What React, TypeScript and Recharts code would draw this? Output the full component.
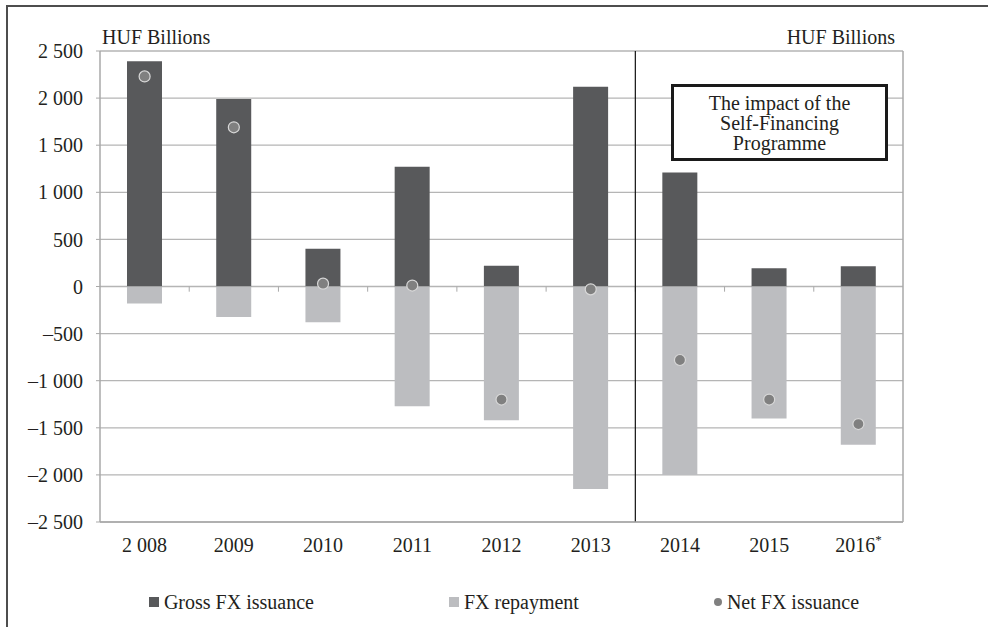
import {
  Bar,
  CartesianGrid,
  ComposedChart,
  Legend,
  Line,
  ReferenceLine,
  XAxis,
  YAxis
} from 'recharts';

const years = ['2 008', '2009', '2010', '2011', '2012', '2013', '2014', '2015', '2016*'];
const grossIssuance = [2390, 1990, 400, 1270, 220, 2120, 1210, 195, 215];
const fxRepayment = [-180, -325, -380, -1270, -1420, -2150, -2000, -1400, -1680];
const netIssuance = [2230, 1690, 30, 10, -1200, -30, -780, -1200, -1460];
const yTicks = [-2500, -2000, -1500, -1000, -500, 0, 500, 1000, 1500, 2000, 2500];

const legendItems = [
  { name: 'Gross FX issuance', color: '#58595b', shape: 'square' },
  { name: 'FX repayment', color: '#bcbdc0', shape: 'square' },
  { name: 'Net FX issuance', color: '#808080', shape: 'circle' }
];

const data = years.map((year, i) => ({
  year,
  gross: grossIssuance[i],
  repay: fxRepayment[i],
  net: netIssuance[i]
}));

const font = '"Liberation Serif", "Times New Roman", serif';
const ink = '#231f20';
const axisGrey = '#a9a9a9';

const fmt = (v: number) => {
  const s = String(Math.abs(v)).replace(/\B(?=(\d{3})+(?!\d))/g, ' ');
  return v < 0 ? '\u2013' + s : s;
};

const RightTick = (props: any) => {
  const { x, y, payload } = props;
  const v = payload.value as number;
  const digits = fmt(Math.abs(v));
  return (
    <g>
      {v < 0 && (
        <text x={x + 16} y={y} dy="0.355em" textAnchor="end" fill={ink} fontSize={20} fontFamily={font}>
          {'\u2013'}
        </text>
      )}
      <text x={x + 16} y={y} dy="0.355em" textAnchor="start" fill={ink} fontSize={20} fontFamily={font}>
        {digits}
      </text>
    </g>
  );
};

const YearTick = (props: any) => {
  const { x, y, payload } = props;
  const label = String(payload.value);
  const star = label.endsWith('*');
  return (
    <text x={x} y={y + 30} textAnchor="middle" fill={ink} fontSize={20} fontFamily={font}>
      {star ? label.slice(0, -1) : label}
      {star && (
        <tspan fontSize={13} dy={-8}>
          *
        </tspan>
      )}
    </text>
  );
};

const renderLegend = () => (
  <div
    style={{
      display: 'flex',
      justifyContent: 'center',
      gap: 135,
      paddingLeft: 20,
      fontFamily: font,
      fontSize: 20,
      color: ink,
      lineHeight: '24px'
    }}
  >
    {legendItems.map((item) => (
      <div key={item.name} style={{ display: 'flex', alignItems: 'center' }}>
        <span
          style={{
            display: 'inline-block',
            width: item.shape === 'circle' ? 8 : 10,
            height: item.shape === 'circle' ? 8 : 10,
            borderRadius: item.shape === 'circle' ? '50%' : 0,
            background: item.color,
            marginRight: 5
          }}
        />
        {item.name}
      </div>
    ))}
  </div>
);

function App() {
  return (
    <div style={{ position: 'absolute', left: 0, top: 0, width: 988, height: 627, overflow: 'hidden', background: '#fff' }}>
      <div
        style={{
          position: 'absolute',
          left: 6,
          top: 5,
          width: 982,
          height: 622,
          borderTop: '2px solid #4d4d4d',
          borderLeft: '2px solid #4d4d4d',
          boxSizing: 'border-box'
        }}
      />
      <ComposedChart
        width={988}
        height={627}
        data={data}
        stackOffset="sign"
        margin={{ top: 51, right: 0, bottom: 75, left: 0 }}
      >
        <CartesianGrid yAxisId="left" vertical={false} stroke="#b5b5b5" strokeWidth={1.3} />
        <XAxis
          dataKey="year"
          height={30}
          tickLine={false}
          tickSize={0}
          tickMargin={0}
          interval={0}
          axisLine={{ stroke: axisGrey, strokeWidth: 1.5 }}
          tick={<YearTick />}
        />
        <YAxis
          yAxisId="left"
          width={100}
          domain={[-2500, 2500]}
          ticks={yTicks}
          interval={0}
          tickSize={4}
          tickMargin={13}
          tickFormatter={fmt}
          axisLine={{ stroke: axisGrey, strokeWidth: 1.5 }}
          tickLine={{ stroke: axisGrey }}
          tick={{ fill: ink, fontSize: 20, fontFamily: font }}
        />
        <YAxis
          yAxisId="right"
          orientation="right"
          width={85}
          domain={[-2500, 2500]}
          ticks={yTicks}
          interval={0}
          tickSize={4}
          tickMargin={2}
          axisLine={{ stroke: axisGrey, strokeWidth: 1.5 }}
          tickLine={{ stroke: axisGrey }}
          tick={<RightTick />}
        />
        <Bar yAxisId="left" dataKey="gross" name="Gross FX issuance" stackId="fx" fill="#58595b" barSize={35} isAnimationActive={false} />
        <Bar yAxisId="left" dataKey="repay" name="FX repayment" stackId="fx" fill="#bcbdc0" barSize={35} isAnimationActive={false} />
        <Line
          yAxisId="left"
          dataKey="net"
          name="Net FX issuance"
          stroke="none"
          dot={{ r: 5.5, fill: '#808080', stroke: '#d8d8d8', strokeWidth: 1.2 }}
          activeDot={false}
          isAnimationActive={false}
        />
        {/* small ticks on the zero line, at the category borders */}
        {years.slice(1).map((y) => (
          <ReferenceLine
            key={y}
            yAxisId="left"
            position="start"
            segment={[{ x: y, y: 0 }, { x: y, y: -55 }]}
            stroke={axisGrey}
          />
        ))}
        <ReferenceLine yAxisId="left" x="2014" position="start" stroke="#111" strokeWidth={1.2} />
        <Legend
          content={renderLegend}
          verticalAlign="middle"
          wrapperStyle={{ top: 590, left: 0, width: 988, height: 24 }}
        />
      </ComposedChart>
      <div style={{ position: 'absolute', left: 102, top: 25, fontFamily: font, fontSize: 20, color: ink, lineHeight: '24px' }}>
        HUF Billions
      </div>
      <div style={{ position: 'absolute', right: 988 - 895, top: 25, fontFamily: font, fontSize: 20, color: ink, lineHeight: '24px' }}>
        HUF Billions
      </div>
      <div
        style={{
          position: 'absolute',
          left: 671,
          top: 84,
          width: 217,
          height: 77,
          boxSizing: 'border-box',
          border: '3px solid #1a1a1a',
          background: '#fff',
          display: 'flex',
          flexDirection: 'column',
          alignItems: 'center',
          justifyContent: 'center',
          fontFamily: font,
          fontSize: 20,
          lineHeight: '20px',
          color: ink,
          textAlign: 'center'
        }}
      >
        <div>The impact of the</div>
        <div>Self-Financing</div>
        <div>Programme</div>
      </div>
    </div>
  );
}

export default App;
